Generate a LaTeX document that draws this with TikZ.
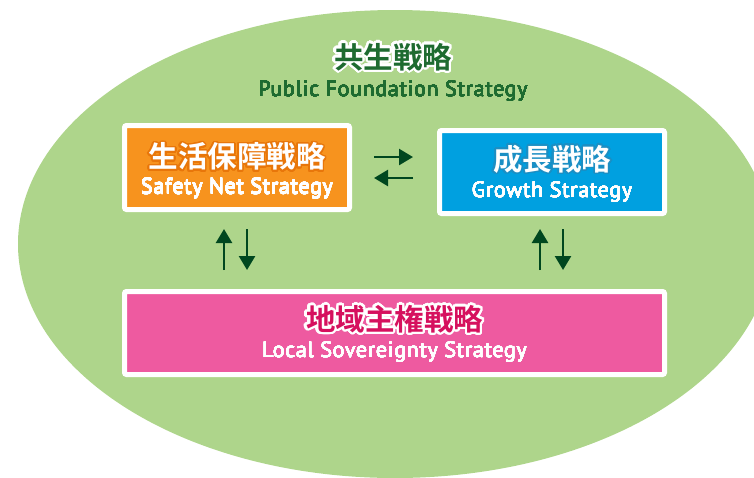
\documentclass[tikz,border=0pt]{standalone}
\usepackage{fontspec}
\setmainfont{PT Sans}
\newfontfamily\cjk[BoldFont={* Bold}]{Noto Sans CJK JP}
\newfontfamily\enfont[LetterSpace=3]{PT Sans}
\usepackage[copies]{contour}
\usetikzlibrary{arrows.meta,calc}
\definecolor{ellgreen}{HTML}{AED58B}
\definecolor{dkgreen}{HTML}{1E6B30}
\definecolor{arrgreen}{HTML}{00471F}
\definecolor{boxorange}{HTML}{F7931E}
\definecolor{boxblue}{HTML}{00A0E0}
\definecolor{boxpink}{HTML}{EE5AA0}
\definecolor{orangeline}{HTML}{E8760A}
\definecolor{blueline}{HTML}{1C8FC4}
\definecolor{crimson}{HTML}{D6105E}
\tikzset{
  stratbox/.style={draw=white, line width=5pt, rounded corners=2pt, inner sep=0pt},
  cjktext/.style={font=\cjk\bfseries\fontsize{29.5}{31}\selectfont, inner sep=0pt},
  entext/.style={font=\enfont\fontsize{22}{24}\selectfont, inner sep=0pt, text=white},
  arr/.style={draw=arrgreen, line width=2.5pt, -{Triangle[width=16pt,length=14pt]}}
}
\contournumber{32}
\newcommand{\thick}[2]{\contourlength{0.12pt}\contour{#1}{#2}}
\begin{document}
\begin{tikzpicture}[x=1pt,y=-1pt]
\useasboundingbox (0,0) rectangle (754,477);
\clip (0,0) rectangle (754,477);
\fill[ellgreen] (395,244) ellipse [x radius=377, y radius=234];
% title
\node[cjktext, text=dkgreen] (ttl) at (393,58) {\contourlength{2.2pt}\contour{white}{共生戦略}};
\node[entext, text=dkgreen] (ttlen) at (393,91) {\thick{dkgreen}{Public Foundation Strategy}};
% boxes
\node[stratbox, fill=boxorange, minimum width=225pt, minimum height=84pt] (orange) at (237,167.5) {};
\node[stratbox, fill=boxblue, minimum width=225pt, minimum height=83pt] (blue) at (552,172) {};
\node[stratbox, fill=boxpink, minimum width=540pt, minimum height=83pt] (pink) at (394.5,333) {};
% texts
\node[cjktext, text=white] (orangecjk) at ($(orange.center)+(0,-10)$) {\contourlength{1.6pt}\contour{orangeline}{生活保障戦略}};
\node[entext] (orangeen) at ($(orange.center)+(0,21)$) {\thick{white}{Safety Net Strategy}};
\node[cjktext, text=white] (bluecjk) at ($(blue.center)+(0,-12)$) {\contourlength{1.6pt}\contour{blueline}{成長戦略}};
\node[entext] (blueen) at ($(blue.center)+(0,20)$) {\thick{white}{Growth Strategy}};
\node[cjktext, text=crimson] (pinkcjk) at ($(pink.center)+(0,-13)$) {\contourlength{2.2pt}\contour{white}{地域主権戦略}};
\node[entext] (pinken) at ($(pink.center)+(0,19)$) {\thick{white}{Local Sovereignty Strategy}};
% arrows
\draw[arr] ($(orange.east)+(22,-10.5)$) -- ($(blue.west)+(-24,-15)$);
\draw[arr] ($(blue.west)+(-24,6)$) -- ($(orange.east)+(22,10.5)$);
\draw[arr] ($(pink.north)+(-170.5,-19)$) -- ($(orange.south)+(-13,17)$);
\draw[arr] ($(orange.south)+(10,17)$) -- ($(pink.north)+(-147.5,-19)$);
\draw[arr] ($(pink.north)+(145.5,-19)$) -- ($(blue.south)+(-12,13)$);
\draw[arr] ($(blue.south)+(11,13)$) -- ($(pink.north)+(168.5,-19)$);
\end{tikzpicture}
\end{document}
